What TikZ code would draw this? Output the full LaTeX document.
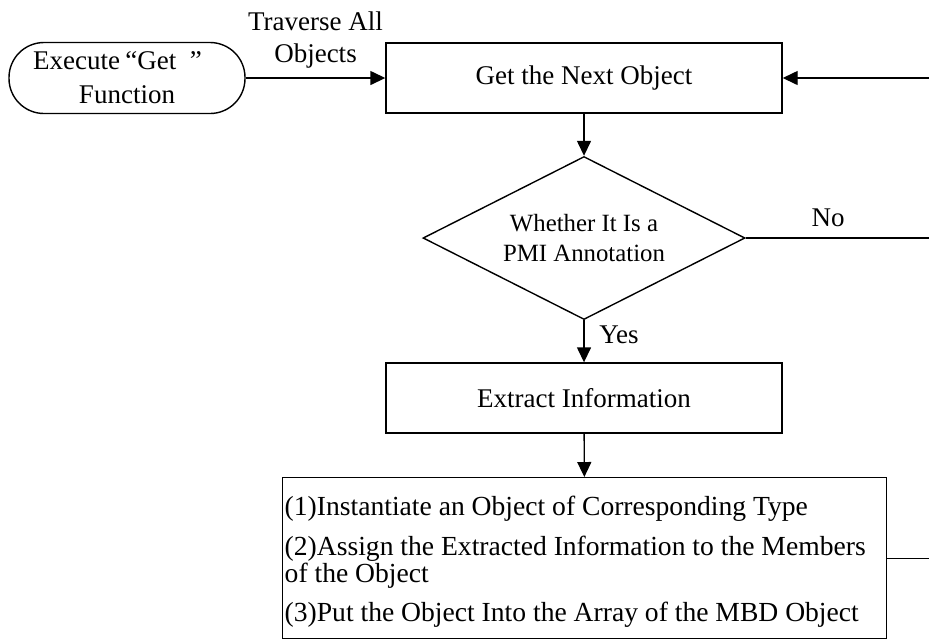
\documentclass[tikz,border=0pt]{standalone}
\usepackage{fontspec}
\setmainfont{Liberation Serif}
\usetikzlibrary{shapes.geometric,arrows.meta}

\begin{document}
\begin{tikzpicture}[x=0.5pt, y=-0.5pt, line width=0.7pt, >={Triangle[length=7.5pt,width=7pt]},
	every node/.style={font=\fontsize{13.5}{17}\selectfont},
	startstop/.style={draw, rectangle, rounded corners=17.5pt, minimum width=118pt, minimum height=35.5pt, align=center},
	process/.style={draw, rectangle, minimum width=198pt, minimum height=35pt},
	decision/.style={draw, diamond, shape aspect=2, minimum width=161pt, minimum height=81.5pt, align=center, inner sep=0pt,
		font=\fontsize{12.4}{15}\selectfont},
	steps/.style={draw, rectangle, anchor=north west, minimum height=80.5pt, text width=300pt, align=flush left, inner xsep=1pt,
		font=\fontsize{13.8}{13.5}\selectfont}]

    \useasboundingbox (0,0) rectangle (929,639);

    \node[startstop] (exec) at (127,78) {Execute\kern0.2em“Get\kern0.5em”\kern0.7em\\Function};
    \node[process] (next) at (584,78) {Get the Next Object};
    \node[decision] (pmi) at (584,238) {Whether It Is a\\PMI Annotation};
    \node[process] (extract) at (584,398) {Extract Information};
    \node[steps] (steps) at (282,477) {\rule{0pt}{13.6pt}(1)Instantiate an Object of Corresponding Type\\[6.5pt]
	(2)Assign the Extracted Information to the Members\\
	of the Object\\[6pt]
	(3)Put the Object Into the Array of the MBD Object};

    % loop back from the right
    \coordinate (back1) at (929,78);
    \coordinate (back2) at (929,238);
    \coordinate (back3) at (steps.east -| back1);

    \draw[->] (exec) -- node[above=1pt, align=center, font=\fontsize{13.5}{16}\selectfont] {Traverse All\\Objects} (next);
    \draw[->] (back1) -- (next);
    \draw[->] (next) -- (pmi);
    \draw (pmi) -- node[above=2pt, pos=0.45] {No} (back2);
    \draw[->] (pmi) -- node[right=4pt, pos=0.35] {Yes} (extract);
    \draw[->] (extract) -- (steps);
    \draw (steps.east) -- (back3);
\end{tikzpicture}
\end{document}
